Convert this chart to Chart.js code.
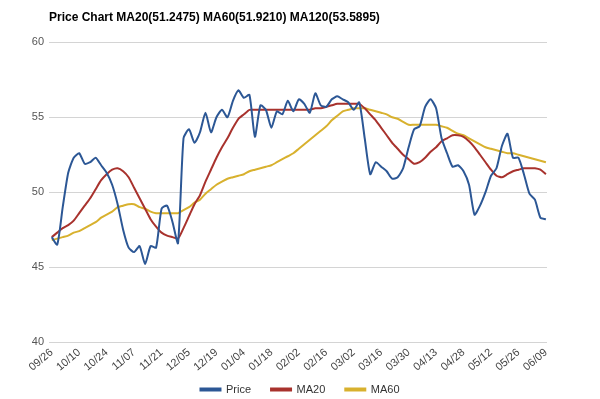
<!DOCTYPE html>
<html>
<head>
<meta charset="utf-8">
<script src="https://cdn.jsdelivr.net/npm/chart.js@4/dist/chart.umd.min.js"></script>
<style>
  html, body { margin: 0; padding: 0; background: #fff; }
  #wrap { width: 600px; height: 399px; }
</style>
</head>
<body>
<div id="wrap"><canvas id="c" width="600" height="399"></canvas></div>
<script>
const titleText = 'Price Chart MA20(51.2475) MA60(51.9210) MA120(53.5895)';
const tickLabels = ['09/26','10/10','10/24','11/07','11/21','12/05','12/19','01/04','01/18','02/02','02/16','03/02','03/16','03/30','04/13','04/28','05/12','05/26','06/09'];
const yTicks = [40, 45, 50, 55, 60];

const price = [47.0,46.5,49.0,51.3,52.3,52.6,51.9,52.0,52.3,51.8,
  51.3,50.5,49.2,47.5,46.3,46.0,46.4,45.2,46.4,46.3,
  48.9,49.1,48.0,46.6,53.6,54.2,53.3,54.0,55.3,54.0,
  55.0,55.5,55.0,56.1,56.8,56.3,56.5,53.7,55.8,55.5,
  54.3,55.4,55.2,56.1,55.4,56.2,55.9,55.3,56.6,55.8,
  55.7,56.2,56.4,56.2,56.0,55.5,56.0,53.6,51.2,52.0,
  51.7,51.4,50.9,51.0,51.6,53.0,54.2,54.4,55.7,56.2,
  55.6,53.6,52.6,51.7,51.8,51.4,50.5,48.5,49.1,50.0,
  51.1,51.6,53.1,53.9,52.3,52.3,51.2,49.9,49.5,48.3,48.2];

const ma20 = [47.0,47.3,47.6,47.8,48.1,48.6,49.1,49.6,50.2,50.8,
  51.2,51.5,51.6,51.4,51.0,50.3,49.6,48.9,48.2,47.7,
  47.3,47.1,47.0,46.9,47.6,48.4,49.2,49.8,50.7,51.5,
  52.3,53.0,53.6,54.3,54.9,55.2,55.5,55.5,55.5,55.5,
  55.5,55.5,55.5,55.5,55.5,55.5,55.5,55.5,55.6,55.6,
  55.7,55.8,55.9,55.9,55.9,55.9,55.9,55.6,55.2,54.8,
  54.3,53.8,53.3,52.9,52.5,52.2,51.9,52.0,52.3,52.7,
  53.0,53.4,53.6,53.8,53.8,53.7,53.4,53.0,52.5,52.0,
  51.5,51.1,51.0,51.2,51.4,51.5,51.6,51.6,51.6,51.5,51.2];

const ma60 = [46.8,46.9,47.0,47.1,47.3,47.4,47.6,47.8,48.0,48.3,
  48.5,48.7,49.0,49.1,49.2,49.2,49.0,48.9,48.7,48.6,
  48.6,48.6,48.6,48.6,48.8,49.0,49.3,49.5,49.9,50.2,
  50.5,50.7,50.9,51.0,51.1,51.2,51.4,51.5,51.6,51.7,
  51.8,52.0,52.2,52.4,52.6,52.9,53.2,53.5,53.8,54.1,
  54.4,54.8,55.1,55.4,55.5,55.6,55.6,55.6,55.5,55.4,
  55.3,55.2,55.0,54.9,54.7,54.5,54.5,54.5,54.5,54.5,
  54.5,54.4,54.3,54.1,53.9,53.8,53.6,53.4,53.2,53.0,
  52.9,52.8,52.7,52.6,52.6,52.5,52.4,52.3,52.2,52.1,52.0];

const pointsPerLabel = 5;
const toXY = arr => arr.map((v, i) => ({ x: i, y: v }));

const FONT = "'Liberation Sans', Arial, sans-serif";

new Chart(document.getElementById('c'), {
  type: 'line',
  data: {
    datasets: [
      { label: 'Price', data: toXY(price), borderColor: '#2c5795', backgroundColor: '#2c5795' },
      { label: 'MA20', data: toXY(ma20), borderColor: '#a8322d', backgroundColor: '#a8322d' },
      { label: 'MA60', data: toXY(ma60), borderColor: '#d8b12e', backgroundColor: '#d8b12e' }
    ]
  },
  options: {
    responsive: false,
    animation: false,
    layout: { padding: { left: 0, right: 0, top: 0, bottom: -6 } },
    elements: {
      point: { radius: 0 },
      line: { borderWidth: 2, tension: 0.2 }
    },
    plugins: {
      title: {
        display: true,
        text: titleText,
        align: 'start',
        fullSize: false,
        color: '#000',
        font: { family: FONT, size: 12, weight: 'bold' },
        padding: { top: 10, bottom: 18 }
      },
      legend: {
        position: 'bottom',
        labels: {
          color: '#333',
          font: { family: FONT, size: 11 },
          boxWidth: 20,
          boxHeight: 2,
          padding: 20
        }
      },
      tooltip: { enabled: false }
    },
    scales: {
      x: {
        type: 'linear',
        min: -0.5,
        max: 90.2,
        grid: { display: false },
        border: { display: false },
        afterBuildTicks: s => { s.ticks = tickLabels.map((_, k) => ({ value: k * pointsPerLabel })); },
        afterFit: s => { s.height = 22; s._computeLabelArea = () => null; },
        ticks: {
          autoSkip: false,
          minRotation: 40,
          maxRotation: 40,
          padding: -4,
          color: '#444',
          font: { family: FONT, size: 11 },
          callback: v => tickLabels[Math.round(v / pointsPerLabel)]
        }
      },
      y: {
        min: 40,
        max: 60,
        afterBuildTicks: s => { s.ticks = yTicks.map(v => ({ value: v })); },
        grid: { color: '#d4d4d4', drawTicks: false, lineWidth: 1 },
        border: { display: false },
        afterFit: s => { s.width = 49; },
        ticks: {
          padding: 5,
          color: '#555',
          font: { family: FONT, size: 11 }
        }
      },
      yRight: {
        position: 'right',
        min: 40,
        max: 60,
        grid: { display: false },
        border: { display: false },
        ticks: { display: false },
        afterFit: s => { s.width = 53; }
      }
    }
  }
});
</script>
</body>
</html>
